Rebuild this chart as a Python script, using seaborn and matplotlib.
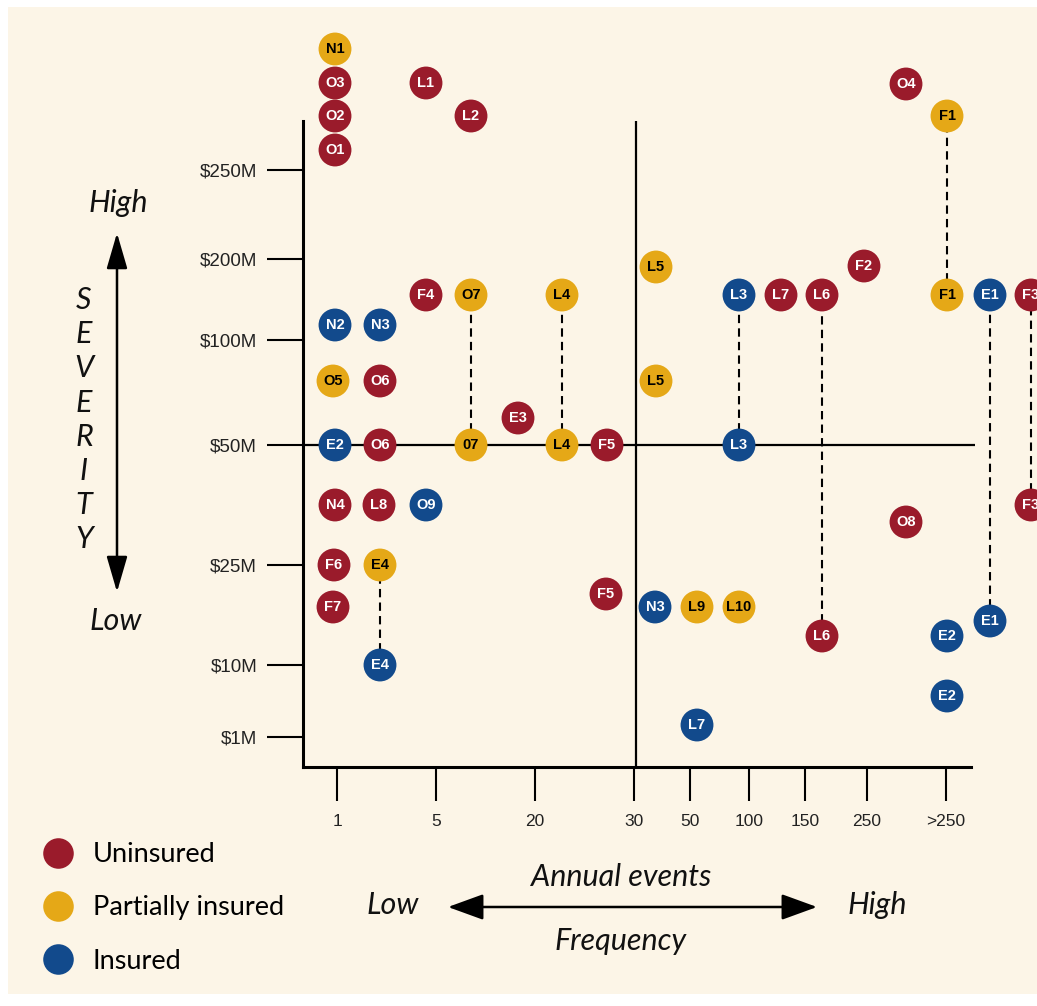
import matplotlib
matplotlib.use("Agg")
import matplotlib.pyplot as plt
from matplotlib import font_manager
from matplotlib.lines import Line2D
from matplotlib.patches import Rectangle
import pandas as pd
import seaborn as sns

# Risk items: label, position on the frequency scale, position on the severity scale,
# insurance coverage and (optional) link id joining the same item at two severities
labels = ["N1", "O3", "L1", "O2", "L2", "O1", "O4", "F1",
          "L5", "F2", "F4", "O7", "L4", "L3", "L7", "L6", "F1", "E1", "F3",
          "N2", "N3", "O5", "O6", "L5", "E3",
          "E2", "O6", "07", "L4", "F5", "L3",
          "N4", "L8", "O9", "F3", "O8",
          "F6", "E4", "F5", "F7", "N3", "L9", "L10",
          "E1", "L6", "E2", "E4", "E2", "L7"]
freq_pos = [3.2, 3.2, 12.3, 3.2, 16.8, 3.2, 60.3, 64.4,
            35.3, 56.1, 12.3, 16.8, 25.9, 43.6, 47.8, 51.9, 64.4, 68.7, 72.8,
            3.2, 7.7, 3.0, 7.7, 35.3, 21.5,
            3.2, 7.7, 16.8, 25.9, 30.4, 43.6,
            3.2, 7.6, 12.3, 72.8, 60.3,
            3.1, 7.7, 30.3, 3.0, 35.2, 39.4, 43.6,
            68.7, 51.9, 64.4, 7.7, 64.4, 39.4]
sev_pos = [71.8, 68.4, 68.4, 65.1, 65.1, 61.7, 68.3, 65.1,
           50.0, 50.1, 47.2, 47.2, 47.2, 47.2, 47.2, 47.2, 47.2, 47.2, 47.2,
           44.2, 44.2, 38.6, 38.6, 38.6, 34.9,
           32.2, 32.2, 32.2, 32.2, 32.2, 32.2,
           26.2, 26.2, 26.2, 26.2, 24.5,
           20.2, 20.2, 17.3, 16.0, 16.0, 16.0, 16.0,
           14.6, 13.1, 13.1, 10.2, 7.1, 4.2]
coverage = ["Partially insured", "Uninsured", "Uninsured", "Uninsured", "Uninsured", "Uninsured", "Uninsured", "Partially insured",
            "Partially insured", "Uninsured", "Uninsured", "Partially insured", "Partially insured", "Insured", "Uninsured", "Uninsured", "Partially insured", "Insured", "Uninsured",
            "Insured", "Insured", "Partially insured", "Uninsured", "Partially insured", "Uninsured",
            "Insured", "Uninsured", "Partially insured", "Partially insured", "Uninsured", "Insured",
            "Uninsured", "Uninsured", "Insured", "Uninsured", "Uninsured",
            "Uninsured", "Partially insured", "Uninsured", "Uninsured", "Insured", "Partially insured", "Partially insured",
            "Insured", "Uninsured", "Insured", "Insured", "Insured", "Insured"]
link = ["", "", "", "", "", "", "", "F1",
        "", "", "", "O7", "L4", "L3", "", "L6", "F1", "E1", "F3",
        "", "", "", "", "", "",
        "", "", "O7", "L4", "", "L3",
        "", "", "", "F3", "",
        "", "E4", "", "", "", "", "",
        "E1", "L6", "", "E4", "", ""]

freq_ticks = [3.4, 13.3, 23.2, 33.1, 38.7, 44.6, 50.2, 56.4, 64.3]
freq_tick_labels = ["1", "5", "20", "30", "50", "100", "150", "250", ">250"]
sev_ticks = [3.0, 10.2, 20.2, 32.2, 42.7, 50.8, 59.7]
sev_tick_labels = ["$1M", "$10M", "$25M", "$50M", "$100M", "$200M", "$250M"]
freq_split = 33.3   # boundary between low and high frequency
sev_split = 32.2    # boundary between low and high severity

legend_order = ["Uninsured", "Partially insured", "Insured"]
palette = {"Uninsured": "#9A1B2B", "Partially insured": "#E5A817", "Insured": "#124A8C"}
text_color = {"Uninsured": "white", "Partially insured": "black", "Insured": "white"}

df = pd.DataFrame({"label": labels, "freq": freq_pos, "sev": sev_pos,
                   "coverage": coverage, "link": link})

installed = {f.name for f in font_manager.fontManager.ttflist}
tick_font = "Liberation Sans Narrow" if "Liberation Sans Narrow" in installed else "Liberation Sans"
text_font = "Lato" if "Lato" in installed else "DejaVu Sans"

W, H = 1037, 1006
fig = plt.figure(figsize=(W / 100, H / 100), dpi=100, facecolor="white")
fig.patches.append(Rectangle((8 / W, 12 / H), 1 - 8 / W, 1 - 19 / H, transform=fig.transFigure,
                             facecolor="#FCF5E7", edgecolor="none", zorder=-10))

ax = fig.add_axes([303 / W, (H - 767) / H, 668 / W, 646 / H])
ax.set_facecolor("none")
ax.set_xlim(0, 66.8)
ax.set_ylim(0, 64.6)

# quadrant lines
ax.axvline(freq_split, color="black", lw=1.6, zorder=1)
ax.hlines(sev_split, 0, 67.2, color="black", lw=1.6, zorder=1, clip_on=False)

# dashed connectors between the two severities of one item
links = (df[df["link"] != ""].groupby("link")
         .agg(x=("freq", "first"), lo=("sev", "min"), hi=("sev", "max")))
ax.vlines(links["x"], links["lo"], links["hi"], colors="black", lw=1.5,
          linestyles=(0, (4, 2.5)), zorder=2, clip_on=False)

sns.scatterplot(data=df, x="freq", y="sev", hue="coverage", palette=palette,
                hue_order=legend_order, s=560, linewidth=0, legend=False,
                ax=ax, clip_on=False, zorder=3)

for _, row in df.iterrows():
    ax.text(row["freq"], row["sev"], row["label"], ha="center", va="center",
            fontsize=10.5, fontweight="bold", family=tick_font,
            color=text_color[row["coverage"]], zorder=4)

# axes styling
for side in ["top", "right"]:
    ax.spines[side].set_visible(False)
for side in ["left", "bottom"]:
    ax.spines[side].set_linewidth(2.2)
ax.set_xticks(freq_ticks)
ax.set_xticklabels(freq_tick_labels, family=tick_font, fontsize=12.5, color="#222222")
ax.set_yticks(sev_ticks)
ax.set_yticklabels([t.replace("$", "\\$") for t in sev_tick_labels],
                   family=tick_font, fontsize=13.5, color="#222222")
ax.tick_params(axis="y", length=26, width=1.5, pad=7)
ax.tick_params(axis="x", length=24.5, width=1.5, pad=9)
ax.set_xlabel("")
ax.set_ylabel("")

# severity annotation
italic = dict(family=text_font, style="italic", color="#111111")
fig.text(118 / W, 1 - 203 / H, "High", ha="center", va="center", fontsize=22, **italic)
fig.text(116 / W, 1 - 621 / H, "Low", ha="center", va="center", fontsize=22, **italic)
for i, letter in enumerate("SEVERITY"):
    fig.text(84 / W, 1 - (300 + i * 34.2) / H, letter, ha="center", va="center",
             fontsize=22, **italic)
ax.annotate("", xy=(117 / W, 1 - 233 / H), xytext=(117 / W, 1 - 592 / H),
            xycoords="figure fraction", textcoords="figure fraction",
            arrowprops=dict(arrowstyle="<|-|>,head_length=1.1,head_width=0.32",
                            mutation_scale=20, lw=1.8, color="black",
                            shrinkA=0, shrinkB=0))

# frequency annotation
fig.text(621 / W, 1 - 877 / H, "Annual events", ha="center", va="center", fontsize=22, **italic)
fig.text(621 / W, 1 - 941 / H, "Frequency", ha="center", va="center", fontsize=22, **italic)
fig.text(393 / W, 1 - 905 / H, "Low", ha="center", va="center", fontsize=22, **italic)
fig.text(877 / W, 1 - 905 / H, "High", ha="center", va="center", fontsize=22, **italic)
ax.annotate("", xy=(448 / W, 1 - 907 / H), xytext=(817 / W, 1 - 907 / H),
            xycoords="figure fraction", textcoords="figure fraction",
            arrowprops=dict(arrowstyle="<|-|>,head_length=1.1,head_width=0.4",
                            mutation_scale=20, lw=1.8, color="black",
                            shrinkA=0, shrinkB=0))

# legend
handles = [Line2D([], [], marker="o", ls="none", markersize=22,
                  markerfacecolor=palette[c], markeredgewidth=0) for c in legend_order]
fig.legend(handles, legend_order, loc="upper left",
           bbox_to_anchor=(44 / W, 1 - 842 / H), frameon=False, borderpad=0,
           borderaxespad=0, handlelength=1.0, handletextpad=0.8,
           labelspacing=1.05, prop=dict(family=text_font, size=19.5))

fig.savefig("out.png", dpi=100)
